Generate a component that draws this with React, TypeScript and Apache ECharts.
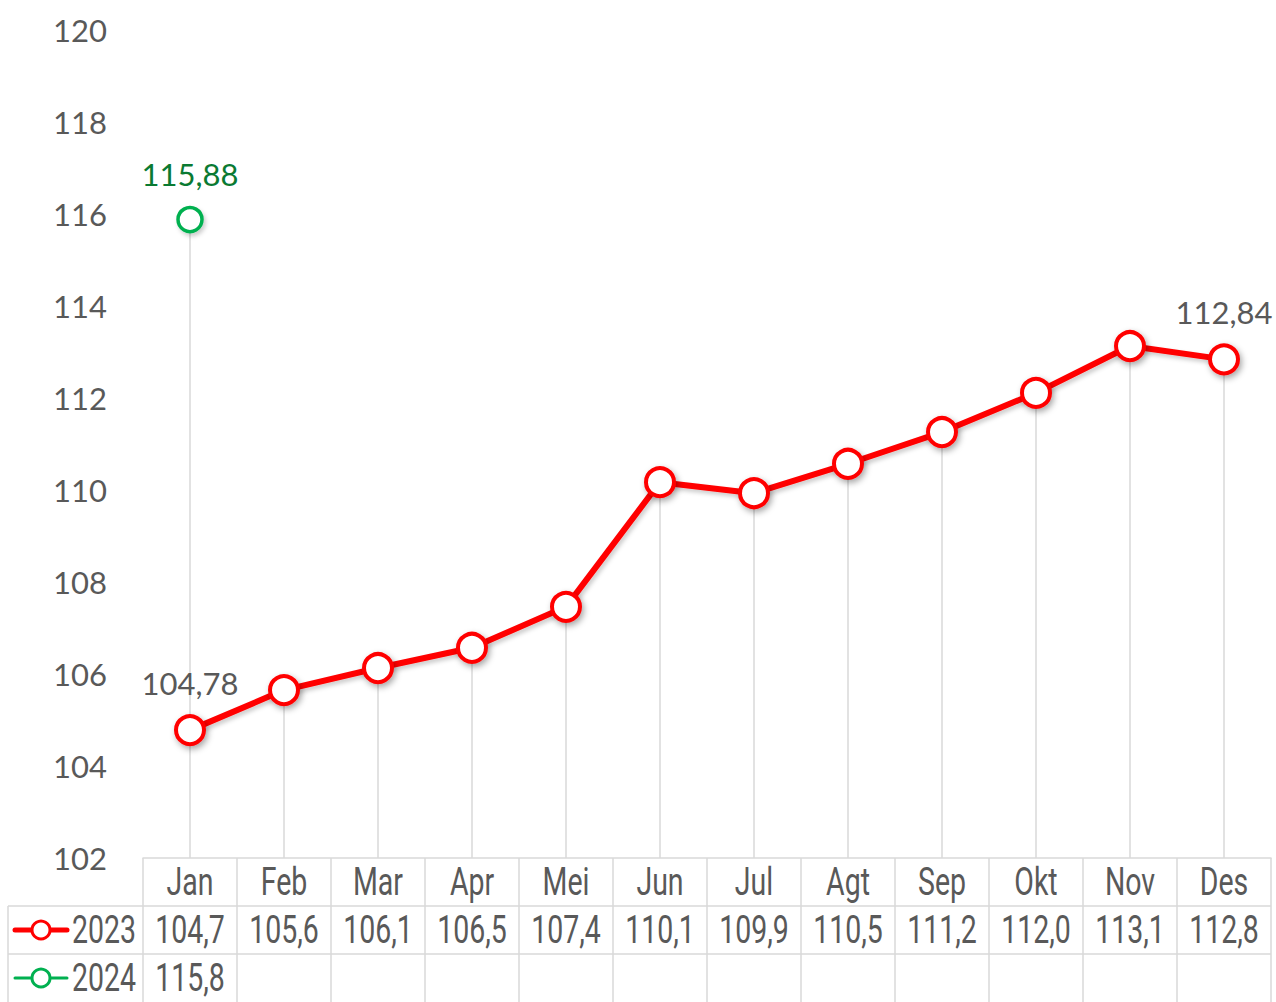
import React, { useEffect, useRef } from "react";
import * as echarts from "echarts";

const categories = ["Jan", "Feb", "Mar", "Apr", "Mei", "Jun", "Jul", "Agt", "Sep", "Okt", "Nov", "Des"];
const series2023 = [104.78, 105.65, 106.13, 106.57, 107.46, 110.17, 109.93, 110.57, 111.26, 112.11, 113.13, 112.84];
const series2024: (number | null)[] = [115.88, null, null, null, null, null, null, null, null, null, null, null];
const table2023 = ["104,7", "105,6", "106,1", "106,5", "107,4", "110,1", "109,9", "110,5", "111,2", "112,0", "113,1", "112,8"];
const table2024 = ["115,8", "", "", "", "", "", "", "", "", "", "", ""];
const labels2023: Record<number, string> = { 0: "104,78", 11: "112,84" };
const labels2024: Record<number, string> = { 0: "115,88" };
const yMin = 102;
const yMax = 120;
const yStep = 2;

const W = 1276;
const H = 1002;
const GRID_LEFT = 143;
const GRID_RIGHT = 5;
const GRID_TOP = 30;
const GRID_BOTTOM = 144;
const ROW_H = 48;
const NARROW = "Roboto, sans-serif";
const NARROW_SIZE = 38;
const NARROW_SCALE = 0.75;
const MAIN = "Lato, 'Open Sans', sans-serif";
const GRAY = "#595959";
const LINE_GRAY = "#d9d9d9";
const RED = "#ff0000";
const GREEN = "#00b050";

export default function App() {
  const ref = useRef<HTMLDivElement>(null);
  useEffect(() => {
    if (!ref.current) return;
    const chart = echarts.init(ref.current, undefined, { renderer: "svg" });
    const dropValues = categories.map((_, i) => {
      const vals = [series2023[i], series2024[i]].filter((v) => v != null) as number[];
      return vals.length ? Math.max(...vals) : null;
    });
    const shadow = {
      shadowBlur: 6,
      shadowColor: "rgba(0,0,0,0.35)",
      shadowOffsetX: 2,
      shadowOffsetY: 3,
    };
    chart.setOption({
      animation: false,
      backgroundColor: "#ffffff",
      grid: { left: GRID_LEFT, right: GRID_RIGHT, top: GRID_TOP, bottom: GRID_BOTTOM },
      xAxis: {
        type: "category",
        data: categories,
        boundaryGap: true,
        axisLine: { show: true, lineStyle: { color: LINE_GRAY, width: 1.5 } },
        axisTick: {
          show: true,
          interval: 0,
          length: ROW_H * 3,
          lineStyle: { color: LINE_GRAY, width: 1.5 },
        },
        axisLabel: { show: false },
        splitLine: { show: false },
      },
      yAxis: {
        type: "value",
        min: yMin,
        max: yMax,
        interval: yStep,
        axisLine: { show: false },
        axisTick: { show: false },
        splitLine: { show: false },
        axisLabel: { color: GRAY, fontFamily: MAIN, fontSize: 31, margin: 36 },
      },
      series: [
        {
          type: "bar",
          data: dropValues,
          barWidth: 1.5,
          silent: true,
          itemStyle: { color: LINE_GRAY },
          z: 1,
        },
        {
          name: "2023",
          type: "line",
          data: series2023.map((v, i) => ({
            value: v,
            label: labels2023[i] ? { show: true, formatter: labels2023[i] } : { show: false },
          })),
          symbol: "circle",
          symbolSize: 28,
          lineStyle: { color: RED, width: 6, shadowBlur: 4, shadowColor: "rgba(0,0,0,0.2)", shadowOffsetX: 2, shadowOffsetY: 3 },
          itemStyle: { color: "#ffffff", borderColor: RED, borderWidth: 4, ...shadow },
          label: {
            position: "top",
            distance: 16,
            color: GRAY,
            fontFamily: MAIN,
            fontSize: 31,
          },
          z: 3,
        },
        {
          name: "2024",
          type: "line",
          data: series2024.map((v, i) => ({
            value: v,
            label: labels2024[i] ? { show: true, formatter: labels2024[i] } : { show: false },
          })),
          symbol: "circle",
          symbolSize: 24,
          lineStyle: { color: GREEN, width: 3 },
          itemStyle: { color: "#ffffff", borderColor: GREEN, borderWidth: 3.5, ...shadow, shadowBlur: 4, shadowColor: "rgba(0,0,0,0.2)" },
          label: {
            position: "top",
            distance: 16,
            color: "#0a7a32",
            fontFamily: MAIN,
            fontSize: 31,
          },
          z: 4,
        },
      ],
    });

    // Table below the axis, placed through the chart's own category scale
    const axisY = chart.convertToPixel({ yAxisIndex: 0 }, yMin) as number;
    const xs = categories.map((_, i) => chart.convertToPixel({ xAxisIndex: 0 }, i) as number);
    const rightEdge = W - GRID_RIGHT;
    const cellText = (x: number, y: number, text: string, align = "center") => ({
      type: "text",
      x,
      y,
      scaleX: NARROW_SCALE,
      style: {
        text,
        fill: GRAY,
        font: `${NARROW_SIZE}px ${NARROW}`,
        align,
        verticalAlign: "middle",
      },
    });
    const legendKey = (y: number, color: string, lw: number, label: string) => [
      {
        type: "line",
        shape: { x1: 15, y1: y, x2: 67, y2: y },
        style: { stroke: color, lineWidth: lw, lineCap: "round" },
      },
      {
        type: "circle",
        shape: { cx: 41, cy: y, r: 9 },
        style: { fill: "#ffffff", stroke: color, lineWidth: 3 },
      },
      cellText(72, y, label, "left"),
    ];
    const graphics: any[] = [
      {
        type: "line",
        shape: { x1: 8, y1: axisY + ROW_H, x2: rightEdge, y2: axisY + ROW_H },
        style: { stroke: LINE_GRAY, lineWidth: 1.5 },
      },
      {
        type: "line",
        shape: { x1: 8, y1: axisY + ROW_H * 2, x2: rightEdge, y2: axisY + ROW_H * 2 },
        style: { stroke: LINE_GRAY, lineWidth: 1.5 },
      },
      {
        type: "line",
        shape: { x1: 8, y1: axisY + ROW_H, x2: 8, y2: H },
        style: { stroke: LINE_GRAY, lineWidth: 1.5 },
      },
      ...legendKey(axisY + ROW_H * 1.5, RED, 5, "2023"),
      ...legendKey(axisY + ROW_H * 2.5, GREEN, 3, "2024"),
    ];
    categories.forEach((c, i) => {
      graphics.push(cellText(xs[i], axisY + ROW_H * 0.5, c));
      if (table2023[i]) graphics.push(cellText(xs[i], axisY + ROW_H * 1.5, table2023[i]));
      if (table2024[i]) graphics.push(cellText(xs[i], axisY + ROW_H * 2.5, table2024[i]));
    });
    chart.setOption({ graphic: graphics });
    return () => chart.dispose();
  }, []);
  return (
    <div
      ref={ref}
      style={{ position: "fixed", left: 0, top: 0, width: W, height: H, background: "#fff" }}
    />
  );
}
